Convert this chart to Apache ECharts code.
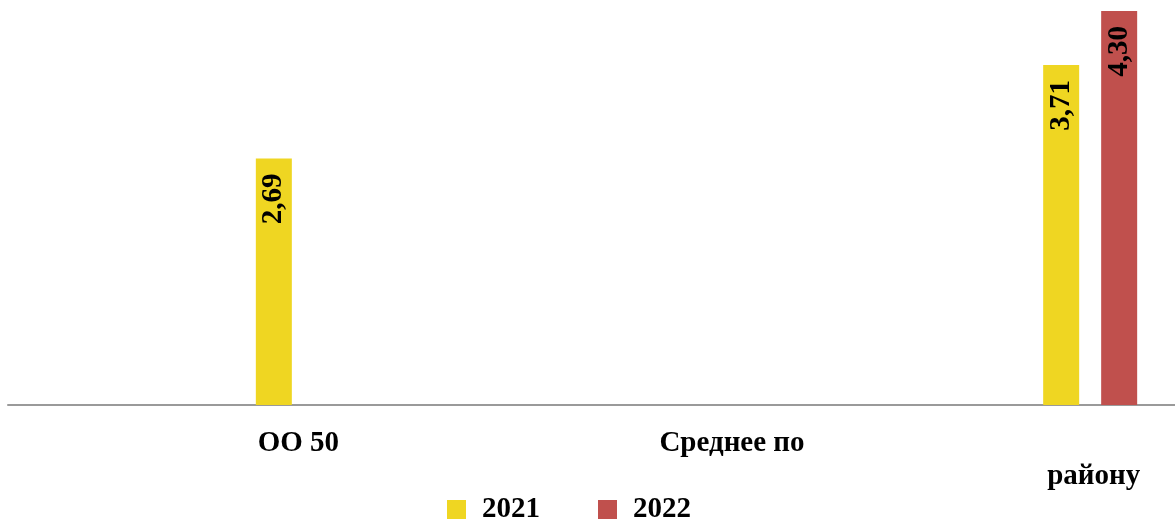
<!DOCTYPE html>
<html>
<head>
<meta charset="utf-8">
<script src="https://cdn.jsdelivr.net/npm/echarts@6/dist/echarts.min.js"></script>
<style>
html,body{margin:0;padding:0;background:#fff;}
#chart{width:1175px;height:523px;}
</style>
</head>
<body>
<div id="chart"></div>
<script>
// Data
const categories = ['ОО 50', 'Среднее по', 'району'];
const seriesNames = ['2021', '2022'];
const values2021 = [2.69, null, 3.71];
const values2022 = [null, null, 4.30];

const FONT = '"Liberation Serif", "Times New Roman", serif';
const colors = ['#EFD622', '#C0504D'];

const chart = echarts.init(document.getElementById('chart'), null, {renderer: 'canvas'});

const labelStyle = {
  show: true,
  position: 'insideTop',
  rotate: 90,
  align: 'right',
  verticalAlign: 'middle',
  distance: 15,
  color: '#000',
  fontFamily: FONT,
  fontWeight: 'bold',
  fontSize: 29,
  formatter: p => (p.value == null ? '' : Number(p.value).toFixed(2).replace('.', ','))
};

const option = {
  animation: false,
  backgroundColor: '#fff',
  color: colors,
  grid: [
    {left: 106, width: 1181, top: 0, bottom: 118, containLabel: false, outerBoundsMode: 'none'},
    {left: 8, right: 0, top: 0, bottom: 118, containLabel: false, outerBoundsMode: 'none'}
  ],
  legend: {
    left: 442,
    top: 490,
    icon: 'rect',
    itemWidth: 19,
    itemHeight: 19,
    itemGap: 58,
    textStyle: {
      fontFamily: FONT,
      fontWeight: 'bold',
      fontSize: 29,
      color: '#000',
      padding: [0, 0, 0, 11]
    },
    data: seriesNames
  },
  xAxis: [
    {
      type: 'category',
      gridIndex: 0,
      data: categories,
      axisLine: {show: false},
      axisTick: {show: false},
      axisLabel: {
        interval: 0,
        margin: 22,
        fontFamily: FONT,
        fontWeight: 'bold',
        fontSize: 29,
        lineHeight: 33,
        color: '#000',
        formatter: (v, i) => {
          if (i === 0) return '{a|' + v + '}';
          if (i === 1) return '{b|' + v + '}';
          return '\n{c|' + v + '}';
        },
        rich: {
          a: {fontFamily: FONT, fontWeight: 'bold', fontSize: 29, lineHeight: 33, color: '#000', padding: [0, 9, 0, 0]},
          b: {fontFamily: FONT, fontWeight: 'bold', fontSize: 29, lineHeight: 33, color: '#000', padding: [0, 0, 0, 71]},
          c: {fontFamily: FONT, fontWeight: 'bold', fontSize: 29, lineHeight: 33, color: '#000', padding: [0, 0, 0, 7]}
        }
      }
    },
    {
      type: 'category',
      gridIndex: 1,
      data: [''],
      axisLine: {show: true, lineStyle: {color: '#9A9A9A', width: 2}},
      axisTick: {show: false},
      axisLabel: {show: false}
    }
  ],
  yAxis: [
    {type: 'value', gridIndex: 0, min: 0, max: 4.42, show: false},
    {type: 'value', gridIndex: 1, min: 0, max: 4.42, show: false}
  ],
  series: [
    {
      name: seriesNames[0],
      type: 'bar',
      xAxisIndex: 0,
      yAxisIndex: 0,
      data: values2021,
      barWidth: 36,
      barGap: '61.1%',
      itemStyle: {color: colors[0]},
      label: labelStyle
    },
    {
      name: seriesNames[1],
      type: 'bar',
      xAxisIndex: 0,
      yAxisIndex: 0,
      data: values2022,
      barWidth: 36,
      barGap: '61.1%',
      itemStyle: {color: colors[1]},
      label: labelStyle
    }
  ]
};

chart.setOption(option);
</script>
</body>
</html>
